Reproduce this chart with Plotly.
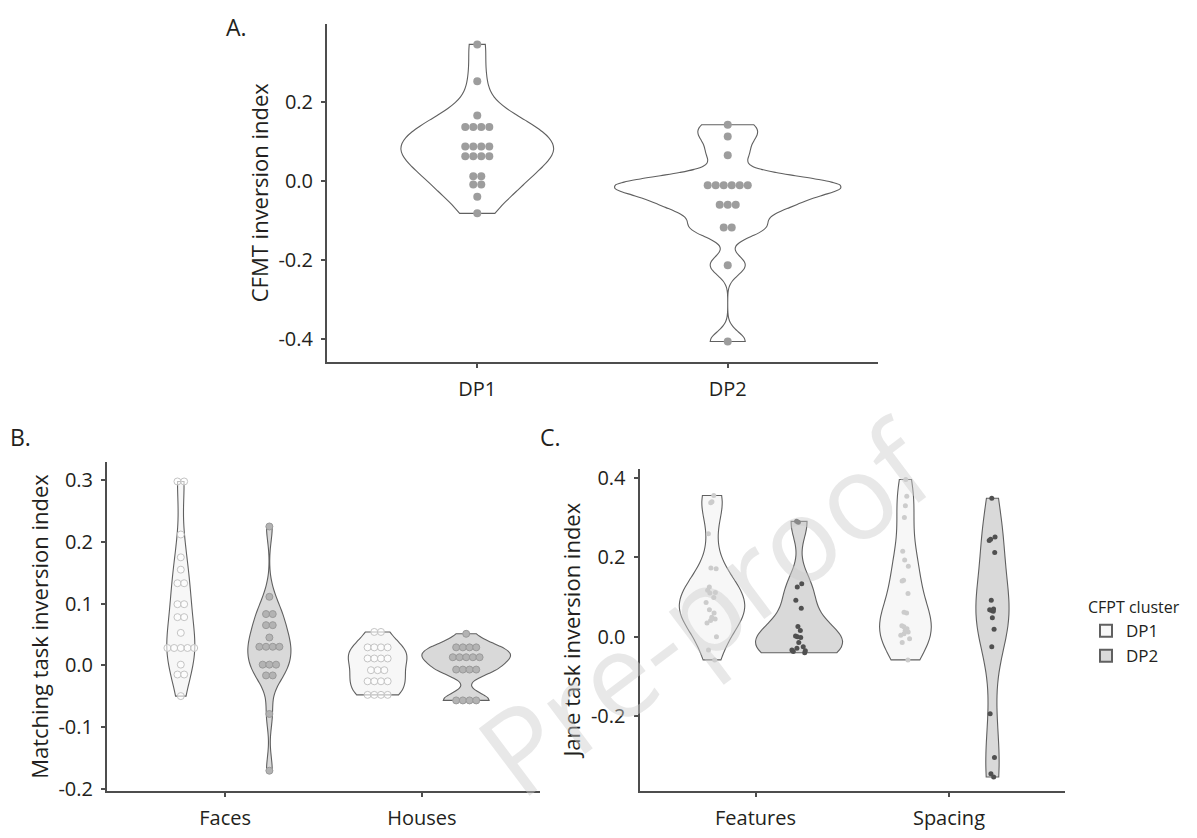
import numpy as np
import plotly.graph_objects as go
from collections import Counter

# ---------------- data ----------------
groups_A = ["DP1", "DP2"]
A_DP1 = [0.345, 0.252, 0.165, 0.136, 0.136, 0.136, 0.136, 0.087, 0.087, 0.087, 0.087,
         0.062, 0.062, 0.062, 0.062, 0.012, 0.012, -0.009, -0.009, -0.040, -0.082]
A_DP2 = [0.142, 0.112, 0.065, -0.011, -0.011, -0.011, -0.011, -0.011, -0.011,
         -0.060, -0.060, -0.060, -0.118, -0.118, -0.213, -0.406]

cats_B = ["Faces", "Houses"]
B_Faces_DP1 = [0.298, 0.298, 0.212, 0.175, 0.155, 0.133, 0.133, 0.099, 0.099, 0.078, 0.078,
               0.0525, 0.028, 0.028, 0.028, 0.028, 0.028,
               0.001, -0.015, -0.015, -0.050]
B_Faces_DP2 = [0.225, 0.111, 0.083, 0.083, 0.065, 0.065, 0.045, 0.030, 0.030, 0.030, 0.030,
               0.001, 0.001, 0.001, -0.0165, -0.0165, -0.079, -0.171]
B_Houses_DP1 = [0.054, 0.054, 0.029, 0.029, 0.029, 0.029, 0.011, 0.011, 0.011, 0.011,
                -0.008, -0.008, -0.008, -0.026, -0.026, -0.026, -0.026,
                -0.048, -0.048, -0.048, -0.048]
B_Houses_DP2 = [0.051, 0.029, 0.029, 0.029, 0.029, 0.013, 0.013, 0.013, 0.013, 0.013,
                -0.007, -0.007, -0.007, -0.007, -0.057, -0.057, -0.057, -0.057]

cats_C = ["Features", "Spacing"]
C_Features_DP1 = [0.355, 0.339, 0.337, 0.259, 0.173, 0.171, 0.125, 0.117, 0.111, 0.110, 0.099,
                  0.086, 0.068, 0.060, 0.049, 0.045, 0.041, 0.035, 0.0, -0.033, -0.058]
C_Features_DP2 = [0.290, 0.288, 0.133, 0.125, 0.092, 0.072, 0.026, 0.016, 0.002, 0.0, -0.002,
                  -0.014, -0.025, -0.029, -0.033, -0.035, -0.037, -0.040]
C_Spacing_DP1 = [0.395, 0.353, 0.329, 0.300, 0.215, 0.193, 0.177, 0.142, 0.140, 0.109, 0.062,
                 0.060, 0.028, 0.025, 0.020, 0.016, 0.008, 0.012, 0.004, -0.005, -0.014, -0.058]
C_Spacing_DP2 = [0.348, 0.251, 0.245, 0.242, 0.212, 0.092, 0.070, 0.068, 0.066, 0.064, 0.048,
                 0.019, -0.025, -0.193, -0.303, -0.344, -0.352]

ticks_A = [-0.4, -0.2, 0.0, 0.2]
ticklabels_A = ["-0.4", "-0.2", "0.0", "0.2"]
ticks_B = [-0.2, -0.1, 0.0, 0.1, 0.2, 0.3]
ticklabels_B = ["-0.2", "-0.1", "0.0", "0.1", "0.2", "0.3"]
ticks_C = [-0.2, 0.0, 0.2, 0.4]
ticklabels_C = ["-0.2", "0.0", "0.2", "0.4"]
legend_names = ["DP1", "DP2"]

# ---------------- helpers ----------------
def nrd0(v):
    v = np.asarray(v, float)
    sd = np.std(v, ddof=1)
    iqr = np.subtract(*np.percentile(v, [75, 25])) / 1.34
    lo = min(sd, iqr) if iqr > 0 else sd
    return 0.9 * lo * len(v) ** -0.2

def kde_max(v, bw):
    v = np.asarray(v, float)
    g = np.linspace(v.min(), v.max(), 512)
    d = np.exp(-0.5 * ((g[:, None] - v[None, :]) / bw) ** 2).sum(1) / (len(v) * bw * np.sqrt(2 * np.pi))
    return d.max()

def stack_offsets(values, step):
    counts = Counter(values)
    seen = {}
    out = []
    for v in values:
        n = counts[v]
        k = seen.get(v, 0)
        seen[v] = k + 1
        out.append((k - (n - 1) / 2) * step)
    return out

FONT = "Open Sans"
TXT = "#231f20"
AX = "#4d4d4d"
LIGHT_FILL = "#f7f7f7"
DARK_FILL = "#d9d9d9"
OUT = "#606060"

fig = go.Figure()

def add_panel(series, positions, total_w, xa, ya, fills, dots, names=None):
    bws = [nrd0(s) for s in series]
    maxes = [kde_max(s, b) for s, b in zip(series, bws)]
    m = max(maxes)
    for i, (s, pos, bw, mx) in enumerate(zip(series, positions, bws, maxes)):
        w = total_w * mx / m
        kw = dict(points=False)
        if dots[i].get("jitter"):
            kw = dict(points="all", pointpos=0, jitter=dots[i]["jitter"],
                      marker=dict(size=dots[i]["size"], color=dots[i]["color"], line=dict(width=0)))
        nm = names[i % 2] if names else ""
        fig.add_trace(go.Violin(
            x=[pos] * len(s), y=s, xaxis=xa, yaxis=ya, width=w, bandwidth=bw,
            spanmode="hard", fillcolor=fills[i], line=dict(color=OUT, width=1.1),
            showlegend=bool(names) and i < 2, name=nm, legendgroup=nm or None,
            hoverinfo="y", **kw))
        if not dots[i].get("jitter"):
            offs = stack_offsets(s, dots[i]["step"])
            fig.add_trace(go.Scatter(
                x=[pos + o for o in offs], y=s, xaxis=xa, yaxis=ya, mode="markers",
                marker=dict(size=dots[i]["size"], color=dots[i]["color"],
                            line=dict(width=dots[i].get("lw", 0), color=dots[i].get("lc", "#999"))),
                showlegend=False, hoverinfo="y"))

# Panel A
dotA = dict(step=0.032, size=8, color="#9d9d9d")
add_panel([A_DP1, A_DP2], [0, 1], 0.9, "x", "y", ["white", "white"], [dotA, dotA])

# Panel B
dodge = 0.225
posB = [0 - dodge, 0 + dodge, 1 - dodge, 1 + dodge]
dB1 = dict(step=0.034, size=7, color="rgba(255,255,255,0.6)", lw=1, lc="#c4c4c4")
dB2 = dict(step=0.034, size=7, color="#b3b3b3", lw=1, lc="#9a9a9a")
add_panel([B_Faces_DP1, B_Faces_DP2, B_Houses_DP1, B_Houses_DP2], posB, 0.45, "x2", "y2",
          [LIGHT_FILL, DARK_FILL, LIGHT_FILL, DARK_FILL], [dB1, dB2, dB1, dB2])

# Panel C
dC1 = dict(jitter=0.25, size=5, color="#cccccc")
dC2 = dict(jitter=0.25, size=5, color="#505050")
add_panel([C_Features_DP1, C_Features_DP2, C_Spacing_DP1, C_Spacing_DP2], posB, 0.45, "x3", "y3",
          [LIGHT_FILL, DARK_FILL, LIGHT_FILL, DARK_FILL], [dC1, dC2, dC1, dC2], names=legend_names)

# page body has an 8px margin: convert screen pixels to paper coords
OFF = 8
W, H = 1197 - OFF, 838 - OFF
def px(xp): return (xp - OFF) / W
def py(yp): return 1 - (yp - OFF) / H

axis_common = dict(showline=True, linecolor=AX, linewidth=2, ticks="outside", ticklen=4,
                   tickwidth=2, tickcolor=AX, showgrid=False, zeroline=False,
                   ticklabelstandoff=4,
                   tickfont=dict(family=FONT, size=20, color=TXT))
title_font = dict(family=FONT, size=22, color=TXT)

fig.update_layout(
    width=W, height=H, margin=dict(l=0, r=0, t=0, b=0),
    paper_bgcolor="white", plot_bgcolor="white", violinmode="overlay",
    font=dict(family=FONT, color=TXT),
    xaxis=dict(domain=[px(327), px(878)], anchor="y", range=[-0.6, 1.6],
               tickvals=[0, 1], ticktext=groups_A, **axis_common),
    yaxis=dict(domain=[py(363), py(19)], anchor="x", range=[-0.4566, 0.397],
               tickvals=ticks_A, ticktext=ticklabels_A,
               title=dict(text="CFMT inversion index", font=title_font, standoff=4),
               **axis_common),
    xaxis2=dict(domain=[px(107), px(540)], anchor="y2", range=[-0.6, 1.6],
                tickvals=[0, 1], ticktext=cats_B, **axis_common),
    yaxis2=dict(domain=[py(800.7), py(465)], anchor="x2", range=[-0.2045, 0.330],
                tickvals=ticks_B, ticktext=ticklabels_B,
                title=dict(text="Matching task inversion index", font=title_font, standoff=4),
                **axis_common),
    xaxis3=dict(domain=[px(639.5), px(1065)], anchor="y3", range=[-0.6, 1.6],
                tickvals=[0, 1], ticktext=cats_C, **axis_common),
    yaxis3=dict(domain=[py(800), py(472)], anchor="x3", range=[-0.3865, 0.4225],
                tickvals=ticks_C, ticktext=ticklabels_C,
                title=dict(text="Jane task inversion index", font=title_font, standoff=4),
                **axis_common),
    legend=dict(x=px(1086), y=py(598), xanchor="left", yanchor="top",
                title=dict(text="CFPT cluster", font=dict(family=FONT, size=16, color=TXT)),
                font=dict(family=FONT, size=17, color=TXT), tracegroupgap=0,
                itemsizing="constant", bgcolor="rgba(0,0,0,0)"),
    showlegend=True,
)

panel_labels = [("A.", 236, 22), ("B.", 20, 440), ("C.", 550, 440)]
for t, x, y in panel_labels:
    fig.add_annotation(text=t, x=px(x), y=py(y), xref="paper", yref="paper",
                       xanchor="center", yanchor="middle",
                       showarrow=False, font=dict(family=FONT, size=23, color=TXT))

fig.add_annotation(text="Pre-proof", x=px(705), y=py(612), xref="paper", yref="paper",
                   xanchor="center", yanchor="middle",
                   showarrow=False, textangle=-37,
                   font=dict(family=FONT, size=118, color="rgba(205,205,205,0.45)"))

fig.write_html("out.html")
